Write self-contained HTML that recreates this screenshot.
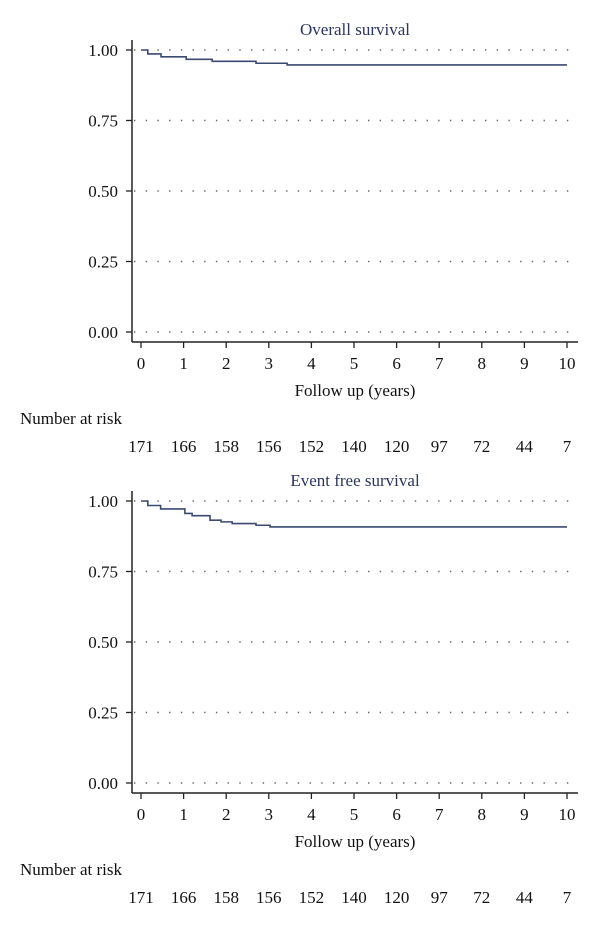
<!DOCTYPE html>
<html><head><meta charset="utf-8"><style>
body{margin:0;background:#fff}
svg text{font-family:"Liberation Serif",serif;font-size:17px;fill:#111}
</style></head><body>
<svg id="c" width="600" height="921" xmlns="http://www.w3.org/2000/svg"></svg>
<script>
const xTicks=[0,1,2,3,4,5,6,7,8,9,10];
const yTicks=[0,0.25,0.5,0.75,1];
const yTickLabels=["0.00","0.25","0.50","0.75","1.00"];
const atRisk=[171,166,158,156,152,140,120,97,72,44,7];
const osTimes=[0,0.16,0.47,1.06,1.67,2.7,3.43,10];
const osValues=[1,0.986,0.976,0.967,0.96,0.953,0.947,0.947];
const efsTimes=[0,0.16,0.46,1.03,1.2,1.62,1.88,2.14,2.7,3.03,10];
const efsValues=[1,0.984,0.972,0.956,0.948,0.932,0.926,0.92,0.914,0.908,0.908];
const svg=document.getElementById('c');
const NS='http://www.w3.org/2000/svg';
function el(t,a,txt){const e=document.createElementNS(NS,t);for(const k in a)e.setAttribute(k,a[k]);if(txt!==undefined)e.textContent=txt;svg.appendChild(e);return e;}
const xS=t=>141+t*42.6;
function panel(y0,title,times,vals,key){
  const yS=v=>y0-v*282;
  const axisY=y0+10;
  const t=el('text',{x:355,y:yS(1)-15,'text-anchor':'middle',style:'fill:#2a3560'},title);
  
  yTicks.forEach((v,i)=>{
    const g=el('line',{x1:134,x2:575,y1:yS(v),y2:yS(v),stroke:'#666','stroke-width':1.4,'stroke-dasharray':'1.4 10.3'});
    
    const tk=el('line',{x1:126,x2:132,y1:yS(v),y2:yS(v),stroke:'#222','stroke-width':1.3});
    
    const l=el('text',{x:118,y:yS(v)+6,'text-anchor':'end'},yTickLabels[i]);
    
  });
  const ya=el('line',{x1:132,x2:132,y1:yS(1)-10,y2:axisY,stroke:'#222','stroke-width':1.5});
  
  const xa=el('line',{x1:132,x2:578,y1:axisY,y2:axisY,stroke:'#222','stroke-width':1.5});
  
  xTicks.forEach((v,i)=>{
    const tk=el('line',{x1:xS(v),x2:xS(v),y1:axisY,y2:axisY+6,stroke:'#222','stroke-width':1.3});
    
    const l=el('text',{x:xS(v),y:axisY+27,'text-anchor':'middle'},String(v));
    
    const r=el('text',{x:xS(v),y:axisY+110,'text-anchor':'middle'},String(atRisk[i]));
    
  });
  const xt=el('text',{x:355,y:axisY+54,'text-anchor':'middle'},'Follow up (years)');
  
  const nr=el('text',{x:20,y:axisY+82},'Number at risk');
  
  let d='M'+xS(times[0])+' '+yS(vals[0]);
  for(let i=1;i<times.length;i++){d+=' H'+xS(times[i])+' V'+yS(vals[i]);}
  const p=el('path',{d:d,fill:'none',stroke:'#3b4a72','stroke-width':1.6});
  
}
panel(332,'Overall survival',osTimes,osValues,'os');
panel(783,'Event free survival',efsTimes,efsValues,'efs');
</script>
</body></html>
